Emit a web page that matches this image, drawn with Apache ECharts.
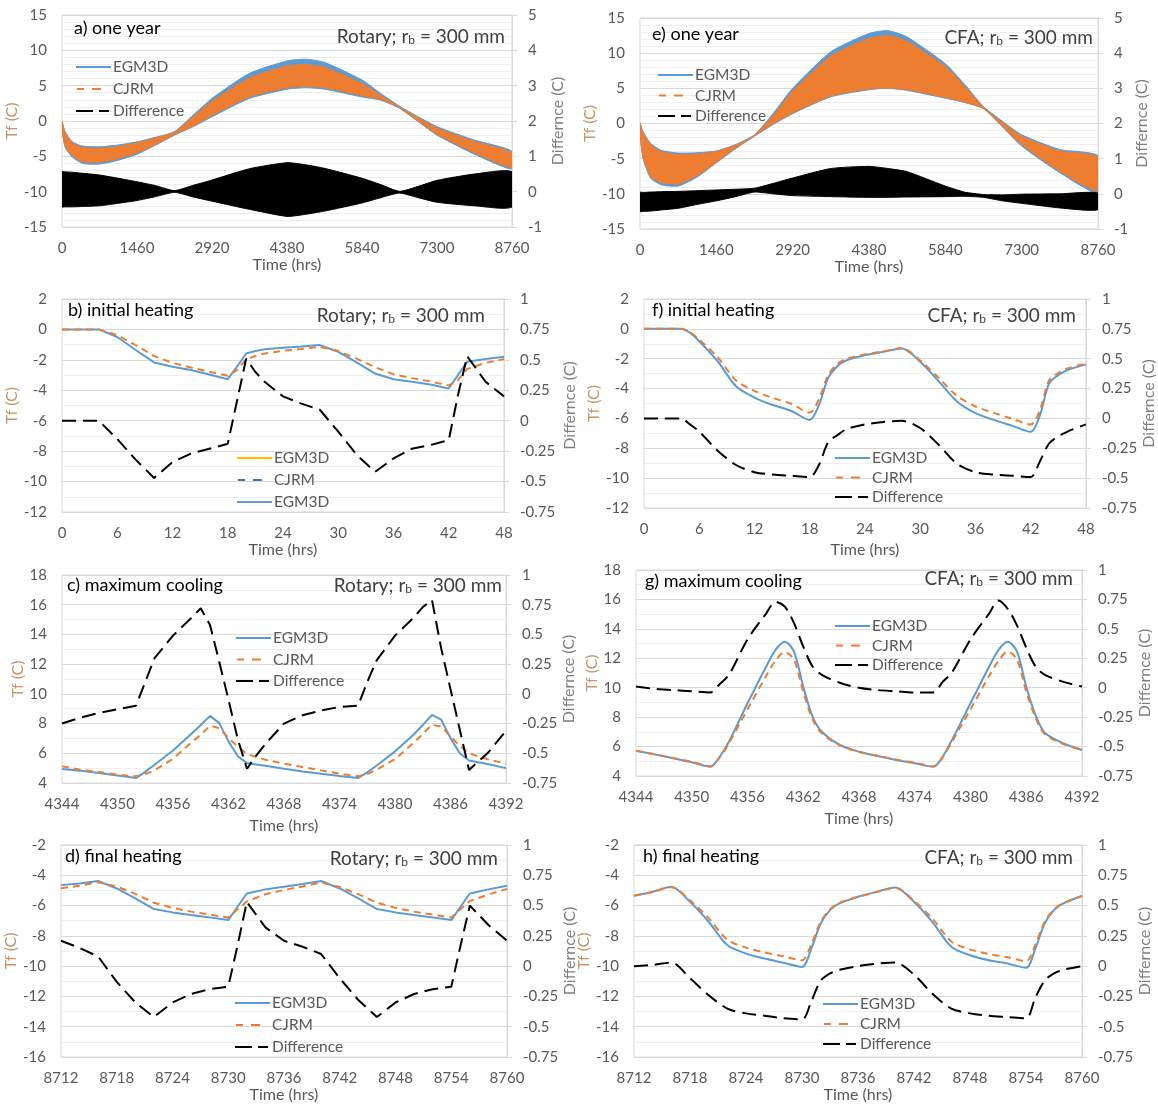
<!DOCTYPE html>
<html>
<head>
<meta charset="utf-8">
<script src="https://cdn.jsdelivr.net/npm/echarts@6/dist/echarts.min.js"></script>
<style>
  html, body { margin: 0; padding: 0; background: #fff; }
  #chart { width: 1158px; height: 1106px; }
</style>
</head>
<body>
<div id="chart"></div>
<script>
// a) + e) one year: upper / lower envelopes of the daily swing
const yearT = [0, 60, 200, 400, 730, 1095, 1460, 1825, 2190, 2555, 2920, 3650, 4380, 4745, 5110, 5840, 6205, 6570, 6935, 7300, 8030, 8760];

const aEgmHi = [0, -1.5, -2.95, -3.55, -3.65, -3.4, -2.95, -2.3, -1.5, 0.85, 3.2, 6.75, 8.5, 8.75, 8.3, 5.8, 3.9, 2.1, 0.6, -0.8, -2.7, -4.3];
const aEgmLo = [-1.0, -3.7, -5.1, -6.0, -6.1, -5.55, -4.7, -3.4, -2.0, -0.8, 0.6, 3.2, 4.5, 4.7, 4.5, 3.4, 2.95, 1.8, -0.1, -2.0, -4.7, -6.8];
const aCjrmHi = [0, -1.7, -3.1, -3.75, -3.85, -3.6, -3.1, -2.4, -1.6, 0.6, 2.8, 6.1, 7.8, 8.0, 7.6, 5.3, 3.6, 2.0, 0.45, -1.0, -2.9, -4.5];
const aCjrmLo = [-1.0, -3.5, -4.9, -5.75, -5.85, -5.3, -4.5, -3.3, -1.9, -0.7, 0.8, 3.4, 4.7, 4.9, 4.7, 3.6, 3.05, 1.9, 0.0, -1.85, -4.5, -6.6];
const aDiffHi = [0.56, 0.56, 0.55, 0.52, 0.47, 0.38, 0.28, 0.17, 0.03, 0.18, 0.33, 0.65, 0.82, 0.76, 0.66, 0.38, 0.2, 0.01, 0.15, 0.32, 0.5, 0.56];
const aDiffLo = [-0.43, -0.43, -0.43, -0.42, -0.4, -0.33, -0.25, -0.14, -0.02, -0.15, -0.27, -0.5, -0.7, -0.64, -0.55, -0.32, -0.17, -0.04, -0.17, -0.3, -0.4, -0.43];

const eEgmHi = [0, -1.2, -2.8, -3.8, -4.2, -4.15, -3.9, -3.0, -1.6, 1.5, 5.0, 10.2, 12.8, 13.2, 12.3, 8.5, 5.6, 2.4, 0.3, -1.6, -3.7, -4.6];
const eEgmLo = [-1.5, -5.0, -7.75, -8.7, -8.9, -7.6, -5.6, -3.6, -1.8, -0.1, 1.4, 3.8, 4.8, 5.0, 4.7, 3.6, 3.0, 2.1, -0.5, -3.2, -7.0, -9.9];
const eCjrmHi = [0, -1.4, -3.0, -4.0, -4.4, -4.35, -4.0, -3.1, -1.7, 1.2, 4.6, 9.6, 12.1, 12.5, 11.7, 8.1, 5.3, 2.3, 0.1, -1.8, -3.9, -4.8];
const eCjrmLo = [-1.5, -4.8, -7.5, -8.4, -8.6, -7.4, -5.5, -3.5, -1.75, 0.0, 1.5, 3.9, 4.9, 5.05, 4.8, 3.7, 3.05, 2.15, -0.4, -3.0, -6.8, -9.6];
const eDiffHi = [0.04, 0.04, 0.05, 0.06, 0.07, 0.09, 0.11, 0.13, 0.16, 0.3, 0.45, 0.72, 0.78, 0.72, 0.63, 0.22, 0.05, -0.02, -0.03, -0.01, 0.0, 0.02];
const eDiffLo = [-0.5, -0.5, -0.49, -0.46, -0.41, -0.3, -0.2, -0.08, 0.05, 0.0, -0.05, -0.08, -0.1, -0.1, -0.09, -0.08, -0.07, -0.1, -0.2, -0.27, -0.4, -0.45];

// b) + f) initial heating
const bT = [0, 2, 4, 6, 8, 10, 12, 14, 16, 18, 19, 20, 21, 22, 24, 26, 28, 30, 32, 34, 36, 38, 40, 42, 43, 44, 46, 48];
const bEgm = [0, 0, 0, -0.5, -1.35, -2.17, -2.45, -2.67, -2.96, -3.27, -2.45, -1.58, -1.42, -1.31, -1.2, -1.12, -1.03, -1.47, -2.17, -2.9, -3.27, -3.44, -3.62, -3.88, -3.0, -2.13, -1.95, -1.8];
const bCjrm = [0, 0, 0, -0.37, -1.03, -1.75, -2.2, -2.5, -2.78, -3.05, -2.67, -1.95, -1.75, -1.58, -1.4, -1.29, -1.14, -1.42, -1.92, -2.48, -2.95, -3.2, -3.42, -3.68, -3.33, -2.6, -2.2, -1.95];
const bDiff = [0, 0, 0, -0.15, -0.32, -0.47, -0.34, -0.27, -0.23, -0.19, 0.16, 0.51, 0.4, 0.32, 0.2, 0.14, 0.09, -0.09, -0.28, -0.42, -0.31, -0.23, -0.2, -0.16, 0.21, 0.53, 0.32, 0.2];

const fT = [0, 2, 4, 5, 6, 8, 10, 12, 14, 16, 18, 19, 20, 21, 22, 24, 26, 28, 30, 32, 34, 36, 38, 40, 42, 43, 44, 45, 46, 48];
const fEgm = [0, 0, 0, -0.27, -0.83, -2.17, -3.85, -4.6, -5.1, -5.5, -6.1, -5.1, -3.3, -2.5, -2.1, -1.76, -1.54, -1.31, -2.2, -3.5, -4.87, -5.65, -6.1, -6.5, -6.9, -5.8, -3.66, -3.1, -2.76, -2.38];
const fCjrm = [0, 0, 0, -0.22, -0.72, -1.9, -3.46, -4.15, -4.63, -5.02, -5.61, -4.71, -3.1, -2.36, -2.01, -1.71, -1.51, -1.29, -2.12, -3.28, -4.49, -5.2, -5.63, -6.02, -6.41, -5.44, -3.45, -2.96, -2.65, -2.33];
const fDiff = [0, 0, 0, -0.05, -0.11, -0.27, -0.39, -0.45, -0.47, -0.48, -0.49, -0.39, -0.2, -0.14, -0.09, -0.05, -0.03, -0.02, -0.08, -0.22, -0.38, -0.45, -0.47, -0.48, -0.49, -0.36, -0.21, -0.15, -0.11, -0.05];

// c) + g) maximum cooling
const cT = [4344, 4346, 4348, 4350, 4352, 4353, 4354, 4356, 4358, 4359, 4360, 4361, 4362, 4363, 4364, 4365, 4366, 4368, 4370, 4372, 4374, 4376, 4377, 4378, 4380, 4382, 4383, 4384, 4385, 4386, 4387, 4388, 4390, 4392];
const cEgm = [4.94, 4.83, 4.67, 4.51, 4.33, 4.75, 5.23, 6.19, 7.31, 7.9, 8.52, 8.03, 6.8, 5.8, 5.34, 5.25, 5.16, 4.96, 4.78, 4.63, 4.47, 4.33, 4.72, 5.16, 6.13, 7.25, 7.9, 8.59, 8.26, 7.02, 6.0, 5.52, 5.28, 5.0];
const cCjrm = [5.12, 4.9, 4.74, 4.56, 4.45, 4.6, 4.85, 5.63, 6.73, 7.25, 7.85, 7.7, 7.02, 6.46, 5.95, 5.75, 5.57, 5.3, 5.08, 4.85, 4.63, 4.45, 4.6, 4.9, 5.61, 6.69, 7.3, 7.92, 7.8, 7.13, 6.5, 6.0, 5.6, 5.3];
const cDiff = [-0.25, -0.2, -0.16, -0.13, -0.1, 0.1, 0.3, 0.49, 0.64, 0.72, 0.58, 0.27, -0.05, -0.38, -0.63, -0.52, -0.42, -0.25, -0.18, -0.14, -0.11, -0.1, 0.1, 0.28, 0.49, 0.64, 0.73, 0.79, 0.38, 0.04, -0.3, -0.64, -0.5, -0.31];

const gT = [4344, 4346, 4348, 4350, 4352, 4353, 4354, 4356, 4358, 4359, 4360, 4361, 4362, 4363, 4364, 4366, 4368, 4370, 4372, 4374, 4376, 4377, 4378, 4380, 4382, 4383, 4384, 4385, 4386, 4387, 4388, 4390, 4392];
const gEgm = [5.72, 5.47, 5.2, 4.93, 4.63, 5.31, 6.33, 8.94, 11.43, 12.56, 13.13, 12.45, 10.07, 8.03, 7.01, 6.1, 5.65, 5.36, 5.09, 4.86, 4.63, 5.31, 6.45, 8.94, 11.43, 12.56, 13.13, 12.45, 10.07, 8.14, 6.94, 6.22, 5.77];
const gCjrm = [5.71, 5.48, 5.22, 4.96, 4.67, 5.25, 6.22, 8.53, 10.8, 11.83, 12.44, 11.9, 9.72, 7.85, 6.9, 6.06, 5.65, 5.38, 5.12, 4.9, 4.67, 5.25, 6.32, 8.53, 10.8, 11.82, 12.46, 11.92, 9.73, 7.96, 6.83, 6.17, 5.76];
const gDiff = [0.01, -0.01, -0.02, -0.03, -0.04, 0.03, 0.11, 0.41, 0.63, 0.73, 0.69, 0.55, 0.35, 0.18, 0.11, 0.04, 0.0, -0.02, -0.03, -0.04, -0.04, 0.05, 0.13, 0.41, 0.63, 0.74, 0.67, 0.53, 0.34, 0.18, 0.11, 0.05, 0.01];

// d) + h) final heating
const dT = [8712, 8714, 8716, 8718, 8720, 8722, 8724, 8726, 8728, 8730, 8731, 8732, 8734, 8736, 8738, 8740, 8742, 8744, 8746, 8748, 8750, 8752, 8754, 8755, 8756, 8758, 8760];
const dEgm = [-4.65, -4.54, -4.38, -4.87, -5.53, -6.23, -6.45, -6.63, -6.78, -6.96, -6.08, -5.2, -4.93, -4.76, -4.58, -4.38, -4.87, -5.53, -6.23, -6.45, -6.63, -6.78, -6.96, -6.08, -5.2, -4.93, -4.69];
const dCjrm = [-4.86, -4.69, -4.46, -4.74, -5.23, -5.81, -6.15, -6.4, -6.59, -6.79, -6.25, -5.73, -5.25, -4.97, -4.74, -4.48, -4.77, -5.25, -5.81, -6.15, -6.4, -6.59, -6.79, -6.25, -5.7, -5.27, -4.9];
const dDiff = [0.21, 0.15, 0.08, -0.13, -0.3, -0.42, -0.3, -0.23, -0.19, -0.17, 0.17, 0.53, 0.32, 0.21, 0.16, 0.1, -0.1, -0.28, -0.42, -0.3, -0.23, -0.19, -0.17, 0.17, 0.5, 0.34, 0.21];

const hT = [8712, 8714, 8716, 8718, 8720, 8722, 8724, 8726, 8728, 8730, 8731, 8732, 8733, 8734, 8736, 8738, 8740, 8742, 8744, 8746, 8748, 8750, 8752, 8754, 8755, 8756, 8757, 8758, 8760];
const hEgm = [-5.35, -5.09, -4.76, -5.75, -7.07, -8.61, -9.17, -9.5, -9.78, -10.05, -8.84, -7.18, -6.3, -5.86, -5.42, -5.09, -4.8, -5.75, -7.11, -8.72, -9.28, -9.61, -9.83, -10.11, -8.84, -7.18, -6.3, -5.86, -5.37];
const hCjrm = [-5.35, -5.1, -4.79, -5.65, -6.83, -8.26, -8.78, -9.09, -9.35, -9.61, -8.55, -7.06, -6.25, -5.83, -5.42, -5.11, -4.83, -5.68, -6.88, -8.37, -8.89, -9.2, -9.41, -9.68, -8.58, -7.06, -6.25, -5.83, -5.37];
const hDiff = [0, 0.01, 0.03, -0.1, -0.24, -0.35, -0.39, -0.41, -0.43, -0.44, -0.29, -0.12, -0.06, -0.03, 0, 0.02, 0.03, -0.07, -0.23, -0.35, -0.39, -0.41, -0.42, -0.43, -0.26, -0.12, -0.06, -0.03, 0];

const BLUE = '#5b9bd5';
const ORANGE = '#ed7d31';
const FONT = 'Lato, "Open Sans", sans-serif';
const LABEL = '#595959';

// legend glyphs (solid, short dash, long dash) as filled bars
const ICON_SOLID = 'path://M0,0h35v2h-35z';
const ICON_DASH = 'path://M0,0h0.1v2h-0.1zM1,0h7v2h-7zM16,0h9v2h-9zM34.9,0h0.1v2h-0.1z';
const ICON_LONG = 'path://M0,0h17v2h-17zM23,0h10v2h-10zM34.9,0h0.1v2h-0.1z';

// one entry per panel, grid index = position in this list
const panels = [
  { key: 'a', grid: [62, 15, 450, 212], x: [0, 8760, 1460], yl: [-15, 15, 5], yr: [-1, 5, 1], minor: 5,
    xGap: 30, lGap: 35, rGap: 38, title: 'a) one year', tPos: [74, 19], sub: 'Rotary', sPos: [653, 27],
    legend: [76, 59, 6] },
  { key: 'b', grid: [62, 299, 442, 213], x: [0, 48, 6], yl: [-12, 2, 2], yr: [-0.75, 1, 0.25], minor: 2,
    xGap: 30, lGap: 34, rGap: 58, title: 'b) initial heating', tPos: [68, 301], sub: 'Rotary', sPos: [673, 306],
    legend: [237, 450, 6], t: bT, egm: bEgm, cjrm: bCjrm, diff: bDiff },
  { key: 'c', grid: [62, 575, 444, 208], x: [4344, 4392, 6], yl: [4, 18, 2], yr: [-0.75, 1, 0.25], minor: 2,
    xGap: 35, lGap: 34, rGap: 55, title: 'c) maximum cooling', tPos: [67, 576], sub: 'Rotary', sPos: [656, 576],
    legend: [236, 630, 5.5], t: cT, egm: cEgm, cjrm: cCjrm, diff: cDiff },
  { key: 'd', grid: [61, 845, 446, 212], x: [8712, 8760, 6], yl: [-16, -2, 2], yr: [-0.75, 1, 0.25], minor: 2,
    xGap: 29, lGap: 35, rGap: 54, title: 'd) final heating', tPos: [65, 847], sub: 'Rotary', sPos: [660, 849],
    legend: [235, 995, 6], t: dT, egm: dEgm, cjrm: dCjrm, diff: dDiff },
  { key: 'e', grid: [640, 18, 458, 211], x: [0, 8760, 1460], yl: [-15, 15, 5], yr: [-1, 5, 1], minor: 5,
    xGap: 30, lGap: 33, rGap: 36, title: 'e) one year', tPos: [652, 25], sub: 'CFA', sPos: [65, 28],
    legend: [658, 67, 4.5] },
  { key: 'f', grid: [644, 299, 446, 209], x: [0, 48, 6], yl: [-12, 2, 2], yr: [-0.75, 1, 0.25], minor: 2,
    xGap: 34, lGap: 33, rGap: 53, title: 'f) initial heating', tPos: [652, 301], sub: 'CFA', sPos: [82, 306],
    legend: [835, 450, 3.5], smooth: true, t: fT, egm: fEgm, cjrm: fCjrm, diff: fDiff },
  { key: 'g', grid: [636, 570, 446, 206], x: [4344, 4392, 6], yl: [4, 18, 2], yr: [-0.75, 1, 0.25], minor: 2,
    xGap: 35, lGap: 30, rGap: 54, title: 'g) maximum cooling', tPos: [645, 572], sub: 'CFA', sPos: [85, 569],
    legend: [835, 618, 3.5], smooth: true, t: gT, egm: gEgm, cjrm: gCjrm, diff: gDiff },
  { key: 'h', grid: [634, 845, 448, 212], x: [8712, 8760, 6], yl: [-16, -2, 2], yr: [-0.75, 1, 0.25], minor: 2,
    xGap: 30, lGap: 30, rGap: 54, title: 'h) final heating', tPos: [643, 847], sub: 'CFA', sPos: [85, 848],
    legend: [823, 996, 4], smooth: true, t: hT, egm: hEgm, cjrm: hCjrm, diff: hDiff }
];

function pairs(t, v) {
  return t.map((x, i) => [x, v[i]]);
}

// filled band between lo and hi, one polygon placed through the axes
function band(t, lo, hi, color, xi, yi) {
  return {
    type: 'custom', xAxisIndex: xi, yAxisIndex: yi, silent: true, clip: true,
    data: t.map((x, i) => [x, lo[i], hi[i]]),
    encode: { x: 0, y: [1, 2] },
    renderItem: (params, api) => {
      if (params.dataIndex !== 0) return null;
      const top = t.map((x, i) => api.coord([x, hi[i]]));
      const bottom = t.map((x, i) => api.coord([x, lo[i]])).reverse();
      return {
        type: 'polygon',
        shape: { points: top.concat(bottom), smooth: 0.2 },
        style: { fill: color, stroke: color, lineWidth: 1 }
      };
    }
  };
}

function curves(p, i) {
  const sm = p.smooth ? 0.3 : false;
  const base = { type: 'line', xAxisIndex: i, symbol: 'none', smooth: sm };
  return [
    Object.assign({ name: 'EGM3D', yAxisIndex: 2 * i, data: pairs(p.t, p.egm),
      lineStyle: { color: BLUE, width: 2 }, itemStyle: { color: BLUE } }, base),
    Object.assign({ name: 'CJRM', yAxisIndex: 2 * i, data: pairs(p.t, p.cjrm),
      lineStyle: { color: ORANGE, width: 2, type: [7, 5] }, itemStyle: { color: ORANGE } }, base),
    Object.assign({ name: 'Difference', yAxisIndex: 2 * i + 1, data: pairs(p.t, p.diff),
      lineStyle: { color: '#000', width: 2, type: [14, 7] }, itemStyle: { color: '#000' } }, base)
  ];
}

const grids = [], xAxes = [], yAxes = [], titles = [], legends = [];
let series = [];

panels.forEach((p, i) => {
  grids.push({ left: p.grid[0], top: p.grid[1], width: p.grid[2], height: p.grid[3],
    show: true, borderColor: '#d9d9d9', borderWidth: 1, backgroundColor: 'transparent' });

  xAxes.push({
    gridIndex: i, type: 'value', min: p.x[0], max: p.x[1], interval: p.x[2],
    axisLine: { show: false }, axisTick: { show: false }, splitLine: { show: false },
    axisLabel: { color: LABEL, fontSize: 15, fontFamily: FONT, margin: 14, formatter: v => String(v) },
    name: 'Time (hrs)', nameLocation: 'middle', nameGap: p.xGap,
    nameTextStyle: { color: LABEL, fontSize: 16, fontFamily: FONT }
  });

  yAxes.push({
    gridIndex: i, type: 'value', position: 'left', min: p.yl[0], max: p.yl[1], interval: p.yl[2],
    axisLine: { show: false }, axisTick: { show: false },
    axisLabel: { color: LABEL, fontSize: 15, fontFamily: FONT, margin: 15, formatter: v => String(v) },
    splitLine: { show: true, lineStyle: { color: '#d9d9d9' } },
    minorTick: { show: false, splitNumber: p.minor },
    minorSplitLine: { show: true, lineStyle: { color: '#eeeeee' } },
    name: 'Tf (C)', nameLocation: 'middle', nameGap: p.lGap,
    nameTextStyle: { color: '#c8946a', fontSize: 16, fontFamily: FONT }
  });
  yAxes.push({
    gridIndex: i, type: 'value', position: 'right', min: p.yr[0], max: p.yr[1], interval: p.yr[2],
    axisLine: { show: true, lineStyle: { color: '#d9d9d9' } },
    axisTick: { show: true, length: 5, lineStyle: { color: '#d9d9d9' } },
    axisLabel: { color: LABEL, fontSize: 15, fontFamily: FONT, margin: 16, formatter: v => String(v) },
    splitLine: { show: false },
    name: 'Differnce (C)', nameLocation: 'middle', nameGap: p.rGap,
    nameTextStyle: { color: '#7f7f7f', fontSize: 16, fontFamily: FONT }
  });

  titles.push({ text: p.title, left: p.tPos[0], top: p.tPos[1], padding: 0,
    textStyle: { color: '#000', fontSize: 18, fontWeight: 'normal', fontFamily: FONT } });
  titles.push({ text: p.sub + '; r{s|b} = 300 mm', right: p.sPos[0], top: p.sPos[1], padding: 0,
    textStyle: { color: '#404040', fontSize: 19, fontWeight: 'normal', fontFamily: FONT,
      rich: { s: { fontSize: 12, color: '#404040', fontFamily: FONT, verticalAlign: 'bottom' } } } });

  legends.push({
    orient: 'vertical', left: p.legend[0], top: p.legend[1], itemGap: p.legend[2], padding: 0,
    itemWidth: 35, itemHeight: 14, selectedMode: false,
    textStyle: { color: LABEL, fontSize: 15.5, fontFamily: FONT, padding: [0, 0, 0, -3] },
    data: p.key === 'b'
      ? [{ name: 'EGM3D ', icon: ICON_SOLID }, { name: 'CJRM ', icon: ICON_DASH }, { name: 'EGM3D', icon: ICON_SOLID }]
      : [{ name: 'EGM3D', icon: ICON_SOLID }, { name: 'CJRM', icon: ICON_DASH }, { name: 'Difference', icon: ICON_LONG }]
  });

  if (p.key === 'a') {
    series.push(
      band(yearT, aEgmLo, aEgmHi, BLUE, i, 2 * i),
      band(yearT, aCjrmLo, aCjrmHi, ORANGE, i, 2 * i),
      band(yearT, aDiffLo, aDiffHi, '#000', i, 2 * i + 1));
  } else if (p.key === 'e') {
    series.push(
      band(yearT, eEgmLo, eEgmHi, BLUE, i, 2 * i),
      band(yearT, eCjrmLo, eCjrmHi, ORANGE, i, 2 * i),
      band(yearT, eDiffLo, eDiffHi, '#000', i, 2 * i + 1));
  } else {
    series = series.concat(curves(p, i));
  }
  if (p.key === 'b') {
    // panel b's legend lists these two entries, drawn with no points
    series.push({ name: 'EGM3D ', type: 'line', xAxisIndex: i, yAxisIndex: 2 * i, symbol: 'none', data: [],
      lineStyle: { color: '#ffc000', width: 2 }, itemStyle: { color: '#ffc000' } });
    series.push({ name: 'CJRM ', type: 'line', xAxisIndex: i, yAxisIndex: 2 * i, symbol: 'none', data: [],
      lineStyle: { color: '#4472c4', width: 2, type: [7, 5] }, itemStyle: { color: '#4472c4' } });
  }
});

const chart = echarts.init(document.getElementById('chart'), null, { renderer: 'canvas' });
chart.setOption({
  animation: false,
  backgroundColor: '#fff',
  textStyle: { fontFamily: FONT },
  title: titles,
  legend: legends,
  grid: grids,
  xAxis: xAxes,
  yAxis: yAxes,
  series: series
});
</script>
</body>
</html>
